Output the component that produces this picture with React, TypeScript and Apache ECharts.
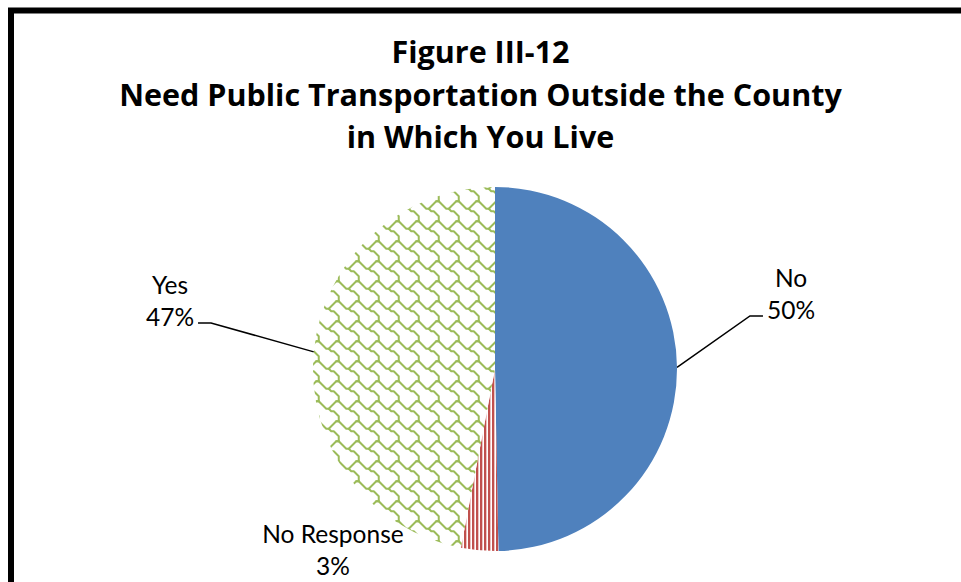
import React, { useEffect, useRef } from 'react';
import * as echarts from 'echarts';

const TITLE_LINES = ['Figure III-12', 'Need Public Transportation Outside the County', 'in Which You Live'];
const categories = ['No', 'No Response', 'Yes'];
const values = [49.7, 3.3, 47.0];

// label anchor positions (layout only)
const LABEL_POS: Record<string, { x: number; y: number }> = {
  'No': { x: 791, y: 316 },
  'No Response': { x: 333, y: 572 },
  'Yes': { x: 170, y: 323 },
};

function makeStripe(): HTMLCanvasElement {
  const c = document.createElement('canvas');
  c.width = 4;
  c.height = 4;
  const ctx = c.getContext('2d')!;
  ctx.fillStyle = '#ffffff';
  ctx.fillRect(0, 0, 4, 4);
  ctx.fillStyle = '#C0504D';
  ctx.fillRect(0, 0, 2, 4);
  ctx.fillStyle = '#EBC3C2';
  ctx.fillRect(2, 0, 1, 4);
  return c;
}

function makeShingle(): HTMLCanvasElement {
  const S = 2.5;
  const T = 20;
  const c = document.createElement('canvas');
  c.width = T;
  c.height = T;
  const ctx = c.getContext('2d')!;
  ctx.fillStyle = '#ffffff';
  ctx.fillRect(0, 0, T, T);
  ctx.strokeStyle = '#9BBB59';
  ctx.lineWidth = 2;
  ctx.lineJoin = 'round';
  ctx.lineCap = 'round';
  const p1 = [[-0.5, 0.5], [0.5, 1.5], [1.5, 2.5], [2.5, 3.5], [3.5, 3.5], [4.5, 2.5], [5.5, 1.5], [6.5, 0.5], [7.5, 0.5]];
  const p2 = [[3.5, 3.5], [4.5, 4.5], [5.5, 4.5], [6.5, 5.5], [7.5, 6.5], [7.5, 7.5], [7.5, 8.5], [6.5, 8.5]];
  for (const dx of [-8, 0, 8]) {
    for (const dy of [-8, 0, 8]) {
      for (const p of [p1, p2]) {
        ctx.beginPath();
        p.forEach((q, i) => {
          const x = (q[0] + dx) * S;
          const y = (q[1] + dy) * S;
          if (i === 0) ctx.moveTo(x, y);
          else ctx.lineTo(x, y);
        });
        ctx.stroke();
      }
    }
  }
  return c;
}

export default function App() {
  const ref = useRef<HTMLDivElement>(null);
  useEffect(() => {
    if (!ref.current) return;
    const chart = echarts.init(ref.current, undefined, { renderer: 'svg' });
    const stripe = makeStripe();
    const shingle = makeShingle();
    const colors: any[] = [
      '#4F81BD',
      { image: stripe, repeat: 'repeat', imageWidth: 4, imageHeight: 4 },
      { image: shingle, repeat: 'repeat', imageWidth: 20, imageHeight: 20 },
    ];
    chart.setOption({
      animation: false,
      backgroundColor: '#ffffff',
      title: {
        text: TITLE_LINES.join('\n'),
        left: 'center',
        top: 25,
        textStyle: {
          fontFamily: 'Open Sans',
          fontWeight: 'bold',
          fontSize: 30.5,
          lineHeight: 42.5,
          color: '#000000',
        },
      },
      graphic: [
        {
          type: 'polyline',
          silent: true,
          shape: { points: [[11, 620], [11, 10.5], [1000, 10.5]] },
          style: { stroke: '#000000', lineWidth: 6, fill: null },
        },
      ],
      series: [
        {
          type: 'pie',
          center: [495, 369],
          radius: 182,
          startAngle: 90,
          clockwise: true,
          avoidLabelOverlap: false,
          silent: true,
          emphasis: { disabled: true },
          itemStyle: { borderWidth: 0 },
          data: categories.map((name, i) => ({
            name,
            value: values[i],
            itemStyle: { color: colors[i] },
            labelLine: name === 'No Response' ? { show: false } : undefined,
          })),
          label: {
            show: true,
            position: 'outside',
            formatter: (p: any) => `{t|${p.name}}\n{t|${Math.round(p.percent)}%}\n{s|\u00a0}`,
            fontFamily: 'Lato',
            fontSize: 24.5,
            lineHeight: 32,
            color: '#000000',
            align: 'center',
            rich: {
              t: { fontFamily: 'Lato', fontSize: 24.5, lineHeight: 32, color: '#000000', padding: [0, 4, 0, 4] },
              s: { fontSize: 10, lineHeight: 46 },
            },
          },
          labelLine: {
            show: true,
            length: 20,
            length2: 13,
            smooth: false,
            lineStyle: { color: '#000000', width: 1.5 },
          },
          labelLayout: (params: any) => {
            const p = LABEL_POS[categories[params.dataIndex]];
            return { x: p.x, y: p.y, align: 'center', verticalAlign: 'middle' };
          },
        },
      ],
    });
    return () => chart.dispose();
  }, []);
  return (
    <div
      ref={ref}
      style={{ position: 'fixed', left: 0, top: 0, width: 961, height: 582, background: '#ffffff' }}
    />
  );
}
